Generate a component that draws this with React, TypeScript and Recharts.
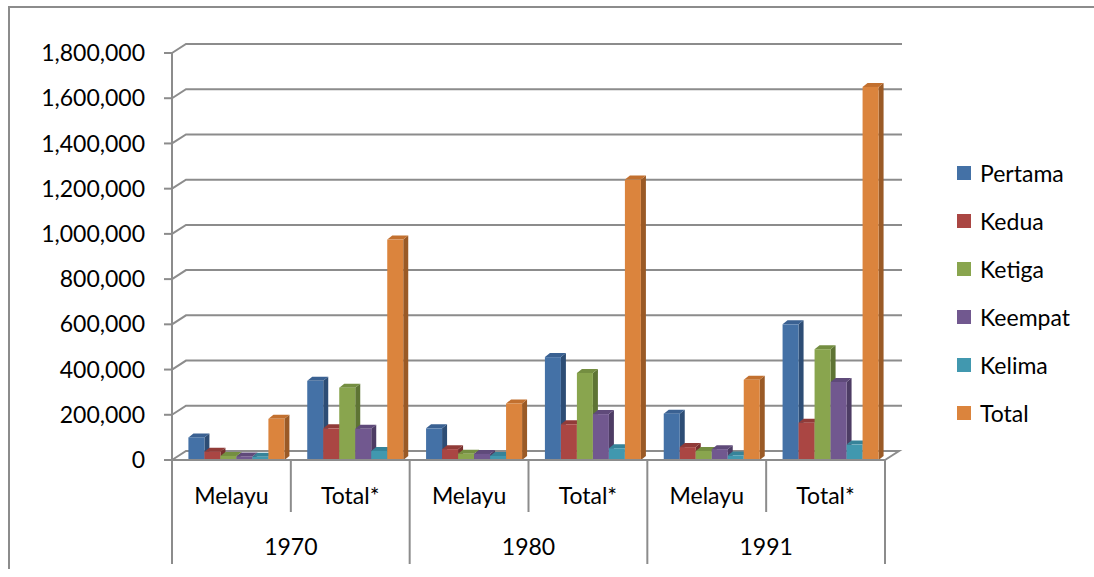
import { Bar, BarChart, CartesianGrid, Legend, XAxis, YAxis } from "recharts";

const categories = ["Melayu", "Total*", "Melayu", "Total*", "Melayu", "Total*"];
const years = ["1970", "1970", "1980", "1980", "1991", "1991"];

const pertama = [100000, 350000, 140000, 455000, 205000, 600000];
const kedua = [37000, 140000, 48000, 158000, 57000, 165000];
const ketiga = [18000, 320000, 28000, 385000, 40000, 490000];
const keempat = [16000, 138000, 27000, 203000, 48000, 345000];
const kelima = [14000, 40000, 18000, 52000, 20000, 68000];
const total = [182000, 975000, 250000, 1240000, 355000, 1650000];

const yTicks = [0, 200000, 400000, 600000, 800000, 1000000, 1200000, 1400000, 1600000, 1800000];

const FONT = "Lato, 'Open Sans', sans-serif";
const GRAY = "#8c8c8c";

// chart box sits at page (8, 6)
const W = 1086;
const H = 563;
const TOP = 47;
const LEFT = 164;
const PLOT_BOTTOM = 454;
const RIGHT = 209;

// depth of the fake 3D walls / bars
const DX = 14;
const DY = -9;
const BDX = 5;
const BDY = -4;
const SHIFT = 5;

const series = [
  { key: "pertama", name: "Pertama", values: pertama, front: "#4471A6", side: "#2D4D75", top: "#3A6192" },
  { key: "kedua", name: "Kedua", values: kedua, front: "#AA4643", side: "#77302E", top: "#913B38" },
  { key: "ketiga", name: "Ketiga", values: ketiga, front: "#89A54E", side: "#5E7434", top: "#748E41" },
  { key: "keempat", name: "Keempat", values: keempat, front: "#71588F", side: "#4D3C64", top: "#5F4A7A" },
  { key: "kelima", name: "Kelima", values: kelima, front: "#4198AF", side: "#2C6A7B", top: "#368399" },
  { key: "total", name: "Total", values: total, front: "#DB843D", side: "#9A5A26", top: "#C2702F" },
];

const data = categories.map((cat, i) => {
  const row: Record<string, string | number> = { cat, year: years[i] };
  series.forEach((s) => {
    row[s.key] = s.values[i];
  });
  return row;
});

function Bar3D(props: any) {
  const { x, y, width, height, front, side, top } = props;
  if (!height || height <= 0) return null;
  const fx = x + SHIFT;
  const r = fx + width;
  const b = y + height;
  return (
    <g>
      <polygon
        points={`${r},${y} ${r + BDX},${y + BDY} ${r + BDX},${b + BDY} ${r},${b}`}
        fill={side}
      />
      <polygon
        points={`${fx},${y} ${fx + BDX},${y + BDY} ${r + BDX},${y + BDY} ${r},${y}`}
        fill={top}
      />
      <rect x={fx} y={y} width={width} height={height} fill={front} />
    </g>
  );
}

function GridLine(p: any) {
  const { x1, x2, y1 } = p;
  if (Math.abs(y1 - PLOT_BOTTOM) < 1) {
    return (
      <path
        key={p.key}
        d={`M${x1},${y1} L${x1 + DX},${y1 + DY} L${x2 + DX},${y1 + DY} L${x2},${y1}`}
        stroke={GRAY}
        strokeWidth={2}
        fill="none"
      />
    );
  }
  return (
    <path
      key={p.key}
      d={`M${x1},${y1} L${x1 + DX},${y1 + DY} L${x2 + DX + 3},${y1 + DY}`}
      stroke={GRAY}
      strokeWidth={2}
      fill="none"
    />
  );
}

function CategoryTick(props: any) {
  const { x, y, payload, index } = props;
  const half = payload.offset ?? 59;
  const yearStart = index % 2 === 0;
  const last = index === categories.length - 1;
  return (
    <g>
      <line
        x1={x - half}
        y1={y}
        x2={x - half}
        y2={yearStart ? y + 104 : y + 52}
        stroke={GRAY}
        strokeWidth={2}
      />
      {last && (
        <line x1={x + half} y1={y} x2={x + half} y2={y + 104} stroke={GRAY} strokeWidth={2} />
      )}
      <text x={x} y={y + 36} dy="0.355em" textAnchor="middle" fontSize={23} fontFamily={FONT} fill="#000">
        {payload.value}
      </text>
      {yearStart && (
        <text
          x={x + half}
          y={y + 87}
          dy="0.355em"
          textAnchor="middle"
          fontSize={23}
          fontFamily={FONT}
          fill="#000"
        >
          {years[index]}
        </text>
      )}
    </g>
  );
}

function LegendList(props: any) {
  const items = [...(props.payload ?? [])].sort(
    (a: any, b: any) =>
      series.findIndex((s) => s.name === a.value) - series.findIndex((s) => s.name === b.value)
  );
  return (
    <div style={{ fontFamily: FONT, fontSize: 23, color: "#000" }}>
      {items.map((it: any) => (
        <div key={it.value} style={{ height: 48, display: "flex", alignItems: "center" }}>
          <span
            style={{ width: 14, height: 14, background: it.color, display: "inline-block", marginRight: 9 }}
          />
          <span>{it.value}</span>
        </div>
      ))}
    </div>
  );
}

export default function App() {
  return (
    <div style={{ position: "absolute", left: 8, top: 6, width: W, height: H }}>
      <BarChart
        width={W}
        height={H}
        data={data}
        margin={{ top: TOP, right: RIGHT, bottom: 0, left: 0 }}
        barCategoryGap="9.6%"
        barGap={0}
      >
        <CartesianGrid horizontal={GridLine} vertical={false} />
        <XAxis
          dataKey="cat"
          height={H - PLOT_BOTTOM}
          interval={0}
          tickSize={0}
          tickMargin={0}
          tickLine={false}
          axisLine={{ stroke: GRAY, strokeWidth: 2 }}
          tick={<CategoryTick />}
        />
        <YAxis
          width={LEFT}
          domain={[0, 1800000]}
          ticks={yTicks}
          tickSize={8}
          tickMargin={19}
          tickLine={{ stroke: GRAY, strokeWidth: 2 }}
          axisLine={{ stroke: GRAY, strokeWidth: 2 }}
          tickFormatter={(v: number) => v.toLocaleString("en-US")}
          tick={{ fontSize: 23, fill: "#000", fontFamily: FONT }}
        />
        <Legend
          layout="vertical"
          align="center"
          verticalAlign="middle"
          wrapperStyle={{ left: 949, top: 143, width: 130 }}
          content={<LegendList />}
        />
        {series.map((s) => (
          <Bar
            key={s.key}
            dataKey={s.key}
            name={s.name}
            fill={s.front}
            isAnimationActive={false}
            shape={(p: any) => <Bar3D {...p} front={s.front} side={s.side} top={s.top} />}
          />
        ))}
      </BarChart>
      <div
        style={{
          position: "absolute",
          left: 0,
          top: 0,
          width: W - 2,
          height: H - 2,
          borderLeft: `2px solid ${GRAY}`,
          borderTop: `2px solid ${GRAY}`,
          pointerEvents: "none",
        }}
      />
    </div>
  );
}
